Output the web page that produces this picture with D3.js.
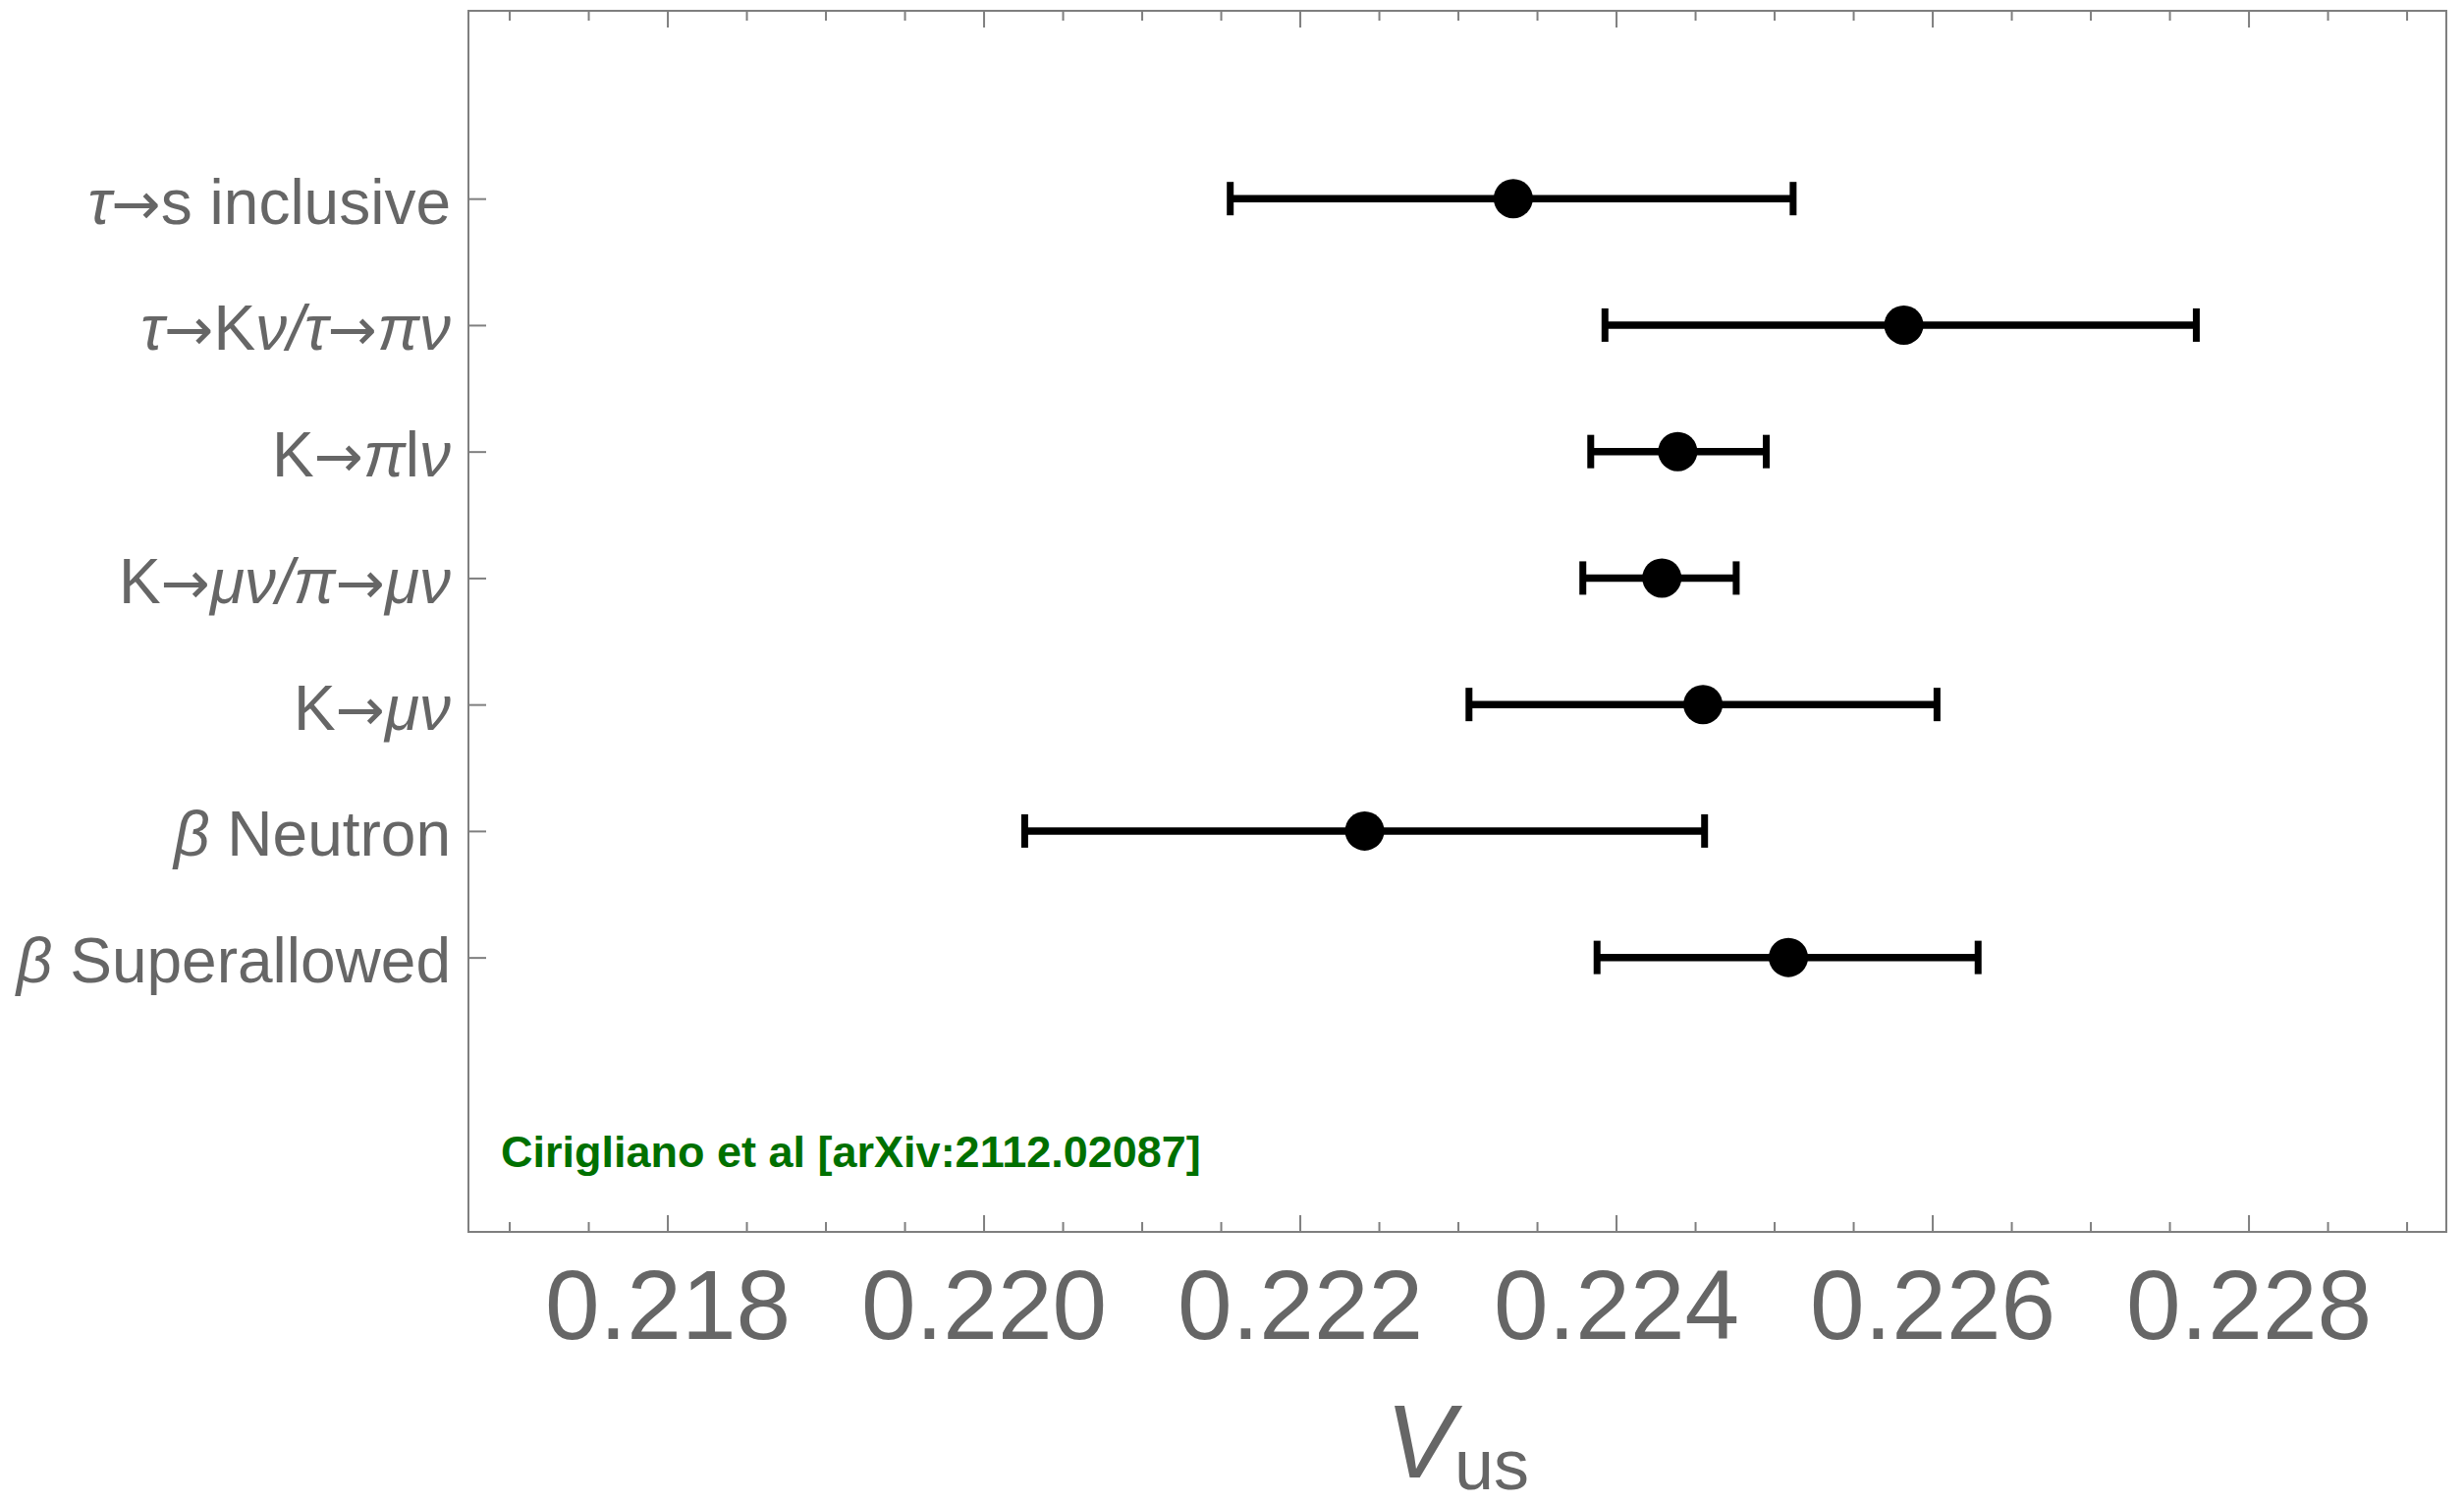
<!DOCTYPE html>
<html>
<head>
<meta charset="utf-8">
<script src="https://cdn.jsdelivr.net/npm/d3@7"></script>
<style>
  body { margin: 0; background: #fff; }
  text { font-family: "Liberation Sans", Arial, Helvetica, sans-serif; }
</style>
</head>
<body>
<div id="chart"></div>
<script>
// measurements of V_us, top row first
var labels = ["τ→s inclusive", "τ→Kν/τ→πν", "K→πlν", "K→μν/π→μν", "K→μν", "β Neutron", "β Superallowed"];
var central = [0.22335, 0.22582, 0.22439, 0.22429, 0.22455, 0.22241, 0.22509];
var lower   = [0.22156, 0.22393, 0.22384, 0.22379, 0.22307, 0.22026, 0.22388];
var upper   = [0.22512, 0.22767, 0.22495, 0.22476, 0.22603, 0.22456, 0.22629];
var rowPos  = [7, 6, 5, 4, 3, 2, 1];

var majorTicks = [0.218, 0.220, 0.222, 0.224, 0.226, 0.228];
var minorTicks = [0.217, 0.2175, 0.2185, 0.219, 0.2195, 0.2205, 0.221, 0.2215,
                  0.2225, 0.223, 0.2235, 0.2245, 0.225, 0.2255, 0.2265, 0.227,
                  0.2275, 0.2285, 0.229];

var W = 2509, H = 1531;
var frame = {left: 477, right: 2491, top: 11, bottom: 1254};
var grey = "#7f7f7f", labelGrey = "#666666";

var svg = d3.select("#chart").append("svg")
    .attr("width", W)
    .attr("height", H);

var x = d3.scaleLinear()
    .domain([0.216742, 0.229245])
    .range([frame.left, frame.right - 1]);
var y = d3.scaleLinear()
    .domain([-1.17, 8.485])
    .range([frame.bottom, frame.top]);

function styleAxis(g) {
    g.select(".domain").remove();
    g.selectAll(".tick line").attr("stroke", grey).attr("stroke-width", 2);
}

// bottom axis, ticks pointing inward
var bottomAxis = svg.append("g")
    .attr("transform", `translate(0, ${frame.bottom})`)
    .call(d3.axisBottom(x).tickValues(majorTicks).tickSizeInner(-17).tickSizeOuter(0)
          .tickPadding(38).tickFormat(d3.format(".3f")));
styleAxis(bottomAxis);
bottomAxis.selectAll("text")
    .attr("fill", labelGrey)
    .style("font-size", "100px");

svg.append("g")
    .attr("transform", `translate(0, ${frame.bottom})`)
    .call(d3.axisBottom(x).tickValues(minorTicks).tickSizeInner(-10).tickSizeOuter(0).tickFormat(""))
    .call(styleAxis);

// top axis mirrors the ticks, no labels
svg.append("g")
    .attr("transform", `translate(0, ${frame.top})`)
    .call(d3.axisTop(x).tickValues(majorTicks).tickSizeInner(-17).tickSizeOuter(0).tickFormat(""))
    .call(styleAxis);
svg.append("g")
    .attr("transform", `translate(0, ${frame.top})`)
    .call(d3.axisTop(x).tickValues(minorTicks).tickSizeInner(-10).tickSizeOuter(0).tickFormat(""))
    .call(styleAxis);

// left axis with category labels
var leftAxis = svg.append("g")
    .attr("transform", `translate(${frame.left}, 0)`)
    .call(d3.axisLeft(y).tickValues(rowPos).tickSizeInner(-18).tickSizeOuter(0)
          .tickPadding(18).tickFormat(""));
styleAxis(leftAxis);

var greek = /[τνμπβ\/]/;
function runKind(ch) {
    if (ch === "→") return "arrow";
    return greek.test(ch) ? "italic" : "plain";
}
leftAxis.selectAll(".tick text")
    .attr("fill", labelGrey)
    .attr("dy", "0.39em")
    .style("font-size", "64px")
    .each(function(d) {
        var label = labels[rowPos.indexOf(d)];
        var t = d3.select(this);
        // split into runs: greek letters italic, arrows in a font with a full-size glyph
        var runs = [];
        [...label].forEach(function(ch) {
            var k = runKind(ch);
            if (runs.length && runs[runs.length - 1].kind === k) {
                runs[runs.length - 1].text += ch;
            } else {
                runs.push({text: ch, kind: k});
            }
        });
        runs.forEach(function(r) {
            var s = t.append("tspan").text(r.text);
            if (r.kind === "italic") s.style("font-style", "italic");
            if (r.kind === "arrow") s.style("font-family", "'DejaVu Sans'").style("font-size", "60px");
        });
    });

// frame
svg.append("rect")
    .attr("x", frame.left)
    .attr("y", frame.top)
    .attr("width", frame.right - frame.left)
    .attr("height", frame.bottom - frame.top)
    .attr("fill", "none")
    .attr("stroke", grey)
    .attr("stroke-width", 2);

// error bars
var rows = labels.map(function(name, i) {
    return {name: name, pos: rowPos[i], c: central[i], lo: lower[i], hi: upper[i]};
});

var bars = svg.append("g").selectAll("g")
    .data(rows)
    .enter()
    .append("g");

bars.append("line")
    .attr("x1", d => x(d.lo))
    .attr("x2", d => x(d.hi))
    .attr("y1", d => y(d.pos))
    .attr("y2", d => y(d.pos))
    .attr("stroke", "#000")
    .attr("stroke-width", 7.5);

bars.selectAll(".cap")
    .data(d => [{v: d.lo, pos: d.pos}, {v: d.hi, pos: d.pos}])
    .enter()
    .append("line")
    .attr("class", "cap")
    .attr("x1", d => x(d.v))
    .attr("x2", d => x(d.v))
    .attr("y1", d => y(d.pos) - 17)
    .attr("y2", d => y(d.pos) + 17)
    .attr("stroke", "#000")
    .attr("stroke-width", 7);

bars.append("circle")
    .attr("cx", d => x(d.c))
    .attr("cy", d => y(d.pos))
    .attr("r", 20)
    .attr("fill", "#000");

// reference note
svg.append("text")
    .attr("x", 510)
    .attr("y", 1188)
    .attr("fill", "#007000")
    .style("font-size", "45px")
    .style("font-weight", "bold")
    .text("Cirigliano et al [arXiv:2112.02087]");

// x axis title V_us
var xTitle = svg.append("text")
    .attr("x", (frame.left + frame.right) / 2)
    .attr("y", 1504)
    .attr("text-anchor", "middle")
    .attr("fill", labelGrey);
xTitle.append("tspan")
    .text("V")
    .style("font-style", "italic")
    .style("font-size", "105px");
xTitle.append("tspan")
    .text("us")
    .attr("dy", 12)
    .style("font-size", "72px");
</script>
</body>
</html>
